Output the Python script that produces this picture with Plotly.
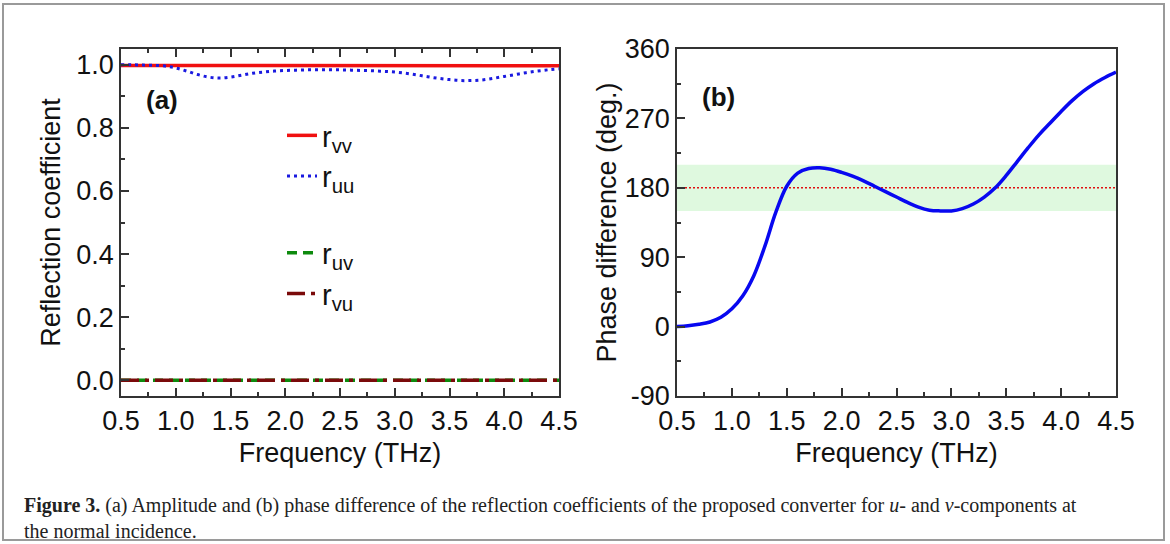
import plotly.graph_objects as go

# ---------------- data ----------------
freq = [0.5, 0.6, 0.7, 0.8, 0.9, 1.0, 1.1, 1.2, 1.3, 1.4, 1.5, 1.6, 1.7, 1.8, 1.9,
        2.0, 2.1, 2.2, 2.3, 2.4, 2.5, 2.6, 2.7, 2.8, 2.9, 3.0, 3.1, 3.2, 3.3, 3.4,
        3.5, 3.6, 3.7, 3.8, 3.9, 4.0, 4.1, 4.2, 4.3, 4.4, 4.5]

r_vv = [0.998, 0.998, 0.998, 0.997, 0.997, 0.997, 0.997, 0.997, 0.997, 0.997, 0.997,
        0.997, 0.997, 0.997, 0.997, 0.997, 0.997, 0.997, 0.997, 0.997, 0.997, 0.997,
        0.997, 0.997, 0.997, 0.997, 0.997, 0.997, 0.997, 0.997, 0.997, 0.997, 0.997,
        0.997, 0.997, 0.997, 0.997, 0.997, 0.997, 0.997, 0.997]

r_uu = [1.000, 1.000, 0.999, 0.998, 0.996, 0.990, 0.980, 0.969, 0.961, 0.958, 0.961,
        0.967, 0.973, 0.977, 0.980, 0.982, 0.983, 0.984, 0.984, 0.984, 0.984, 0.983,
        0.982, 0.981, 0.979, 0.977, 0.973, 0.968, 0.962, 0.957, 0.953, 0.950, 0.950,
        0.952, 0.957, 0.963, 0.969, 0.975, 0.980, 0.984, 0.987]

r_uv = [0.0] * 41
r_vu = [0.0] * 41

phase_diff = [0, 1, 3, 6, 12, 23, 40, 66, 104, 148, 182, 199, 205, 206, 204,
              200, 195, 189, 182, 175, 168, 161, 155, 151, 150, 150, 153, 159, 168, 180,
              196, 214, 232, 249, 264, 279, 293, 305, 315, 323, 330]

band_low, band_high, band_center = 150, 210, 180

x_ticks = [0.5, 1.0, 1.5, 2.0, 2.5, 3.0, 3.5, 4.0, 4.5]
ya_ticks = [0.0, 0.2, 0.4, 0.6, 0.8, 1.0]
yb_ticks = [-90, 0, 90, 180, 270, 360]
yb_labels = ["-90", "0", "90", "180", "270", "360"]

# ---------------- figure ----------------
W, H = 1170, 544
FONT = "Liberation Sans, Arial, sans-serif"
SERIF = "Liberation Serif, Times New Roman, serif"

def px_x(p):
    return p / W

def px_y(p):
    return 1 - p / H

fig = go.Figure()

# panel (a)
fig.add_trace(go.Scatter(x=freq, y=r_vv, mode="lines", name="r<sub>vv</sub>",
                         line=dict(color="#f01010", width=3.5),
                         xaxis="x", yaxis="y", legendgroup="g1"))
fig.add_trace(go.Scatter(x=freq, y=r_uu, mode="lines", name="r<sub>uu</sub>",
                         line=dict(color="#1a1ae0", width=3, dash="3px,4px", shape="spline"),
                         xaxis="x", yaxis="y", legendgroup="g1"))
fig.add_trace(go.Scatter(x=freq, y=r_uv, mode="lines", name="r<sub>uv</sub>",
                         line=dict(color="#0d8a0d", width=3.5, dash="10px,6px"),
                         xaxis="x", yaxis="y", legendgroup="g2"))
fig.add_trace(go.Scatter(x=freq, y=r_vu, mode="lines", name="r<sub>vu</sub>",
                         line=dict(color="#7a0a0a", width=3.5, dash="18px,6px,4px,6px"),
                         xaxis="x", yaxis="y", legendgroup="g2"))

# panel (b)
fig.add_trace(go.Scatter(x=freq, y=phase_diff, mode="lines", showlegend=False,
                         line=dict(color="#0808f0", width=3.5, shape="spline"),
                         xaxis="x2", yaxis="y2"))

# band and reference line in panel (b)
fig.add_shape(type="rect", xref="x2 domain", yref="y2", x0=0, x1=1,
              y0=band_low, y1=band_high, fillcolor="#dff9df", line_width=0, layer="below")
fig.add_shape(type="line", xref="x2 domain", yref="y2", x0=0, x1=1,
              y0=band_center, y1=band_center, line=dict(color="#e01010", width=1.5, dash="2px,2px"),
              layer="below")

axis_common = dict(showline=True, linecolor="#333333", linewidth=1.5, ticks="inside",
                   ticklen=8, tickwidth=1.5, tickcolor="#333333", showgrid=False,
                   zeroline=False, automargin=False,
                   tickfont=dict(family=FONT, size=27, color="#111111"),
                   title_font=dict(family=FONT, size=27, color="#111111"))
minor_common = dict(ticks="inside", ticklen=4, tickwidth=1.5, tickcolor="#333333")

ax_dom = [px_x(121), px_x(559)]
bx_dom = [px_x(677), px_x(1116)]
y_dom = [px_y(396), px_y(49)]

fig.update_layout(
    width=W, height=H, template="none",
    paper_bgcolor="white", plot_bgcolor="white",
    margin=dict(l=0, r=0, t=0, b=0),
    font=dict(family=FONT, size=27, color="#111111"),
    xaxis=dict(domain=ax_dom, anchor="y", range=[0.5, 4.5], tickvals=x_ticks,
               tickformat=".1f", mirror="ticks", minor=dict(dtick=0.25, **minor_common),
               title=dict(text="Frequency (THz)", standoff=8), **axis_common),
    yaxis=dict(domain=y_dom, anchor="x", range=[-0.05, 1.05], tickvals=ya_ticks,
               tickformat=".1f", mirror=True, minor=dict(dtick=0.1, **minor_common),
               title=dict(text="Reflection coefficient", standoff=8), **axis_common),
    xaxis2=dict(domain=bx_dom, anchor="y2", range=[0.5, 4.5], tickvals=x_ticks,
                tickformat=".1f", mirror=True, minor=dict(dtick=0.25, **minor_common),
                title=dict(text="Frequency (THz)", standoff=8), **axis_common),
    yaxis2=dict(domain=y_dom, anchor="x2", range=[-90, 360], tickvals=yb_ticks,
                ticktext=yb_labels, mirror=True, minor=dict(dtick=45, **minor_common),
                title=dict(text="Phase difference (deg.)", standoff=0), **axis_common),
    legend=dict(x=px_x(282), y=px_y(110), xanchor="left", yanchor="top",
                bgcolor="rgba(0,0,0,0)", borderwidth=0,
                font=dict(family=FONT, size=29, color="#111111"),
                traceorder="grouped", tracegroupgap=36, itemwidth=30),
    showlegend=True,
)

# panel labels
fig.add_annotation(text="<b>(a)</b>", xref="paper", yref="paper", x=px_x(162), y=px_y(100),
                   xanchor="center", yanchor="middle",
                   showarrow=False, font=dict(family=FONT, size=26, color="#111111"))
fig.add_annotation(text="<b>(b)</b>", xref="paper", yref="paper", x=px_x(718), y=px_y(97),
                   xanchor="center", yanchor="middle",
                   showarrow=False, font=dict(family=FONT, size=26, color="#111111"))

# caption
fig.add_annotation(
    text="<b>Figure 3.</b> (a) Amplitude and (b) phase difference of the reflection coefficients of the proposed converter for <i>u</i>- and <i>v</i>-components at",
    xref="paper", yref="paper", x=px_x(22), y=px_y(505), xanchor="left", yanchor="middle",
    showarrow=False, font=dict(family=SERIF, size=20, color="#222222"))
fig.add_annotation(
    text="the normal incidence.",
    xref="paper", yref="paper", x=px_x(22), y=px_y(531), xanchor="left", yanchor="middle",
    showarrow=False, font=dict(family=SERIF, size=20, color="#222222"))

# outer frame
fig.add_shape(type="rect", xref="paper", yref="paper", x0=px_x(3), x1=px_x(1164),
              y0=px_y(540), y1=px_y(4), line=dict(color="#9a9a9a", width=2),
              fillcolor="rgba(0,0,0,0)", layer="above")

fig.write_html("out.html")
